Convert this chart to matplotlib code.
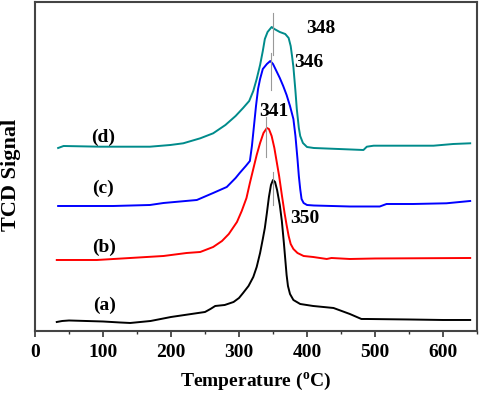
import matplotlib
matplotlib.use("Agg")
import matplotlib.pyplot as plt
from matplotlib.ticker import MultipleLocator

plt.rcParams['font.family'] = ['Liberation Serif', 'DejaVu Serif']
plt.rcParams['font.weight'] = 'bold'
plt.rcParams['mathtext.fontset'] = 'custom'
plt.rcParams['mathtext.rm'] = 'Liberation Serif:bold'

# (a) black
t_a = [32, 40, 50, 75, 100, 125, 140, 170, 200, 230, 250, 258, 265, 279, 292, 300, 306, 314, 321, 326,
       331, 335, 338, 341, 344, 347, 350, 353, 356, 360, 363, 366, 368, 370, 372, 375, 380, 390,
       409, 439, 463, 480, 488, 550, 600, 640]
s_a = [9, 10, 10.5, 10, 9.5, 8.5, 8, 10, 14, 17, 19, 22, 25, 26, 29, 33, 38, 45, 54, 64,
       78, 92, 103, 118, 134, 146, 151, 149, 141, 126, 110, 88, 72, 56, 45, 37, 31, 27,
       25, 23, 17, 12, 12, 11.5, 11, 11]
# (b) red
t_b = [32, 91, 140, 189, 223, 243, 262, 275, 285, 297, 304, 311, 316, 321, 326, 331, 336, 341, 344,
       348, 352, 355, 359, 363, 367, 370, 373, 376, 380, 386, 395, 409, 429, 436, 463, 500, 640]
s_b = [71, 71, 73, 75, 78, 79, 84, 90, 97, 109, 120, 133, 148, 162, 176, 188, 198, 203, 202,
       195, 183, 171, 155, 136, 118, 106, 95, 87, 82, 78, 75, 74, 72, 73, 72, 72.5, 73]
# (c) blue
t_c = [34, 115, 169, 189, 238, 262, 282, 295, 301, 310, 316, 319, 322, 325, 328, 331, 335, 341, 346,
       350, 355, 360, 365, 370, 375, 380, 383, 386, 388, 390, 392, 395, 400, 410, 463, 507, 517,
       556, 605, 640]
s_c = [125, 125, 126, 128, 131, 138, 144, 153, 158, 165, 170, 185, 205, 225, 242, 252, 262, 267, 270,
       267, 260, 253, 245, 236, 225, 212, 195, 172, 155, 142, 132, 128, 126, 125.5, 124.5, 124.5, 127,
       127, 127.7, 130]
# (d) teal
t_d = [34, 42, 96, 169, 199, 218, 243, 262, 280, 295, 306, 315, 321, 326, 331, 335, 338, 342, 348,
       352, 360, 368, 373, 376, 378, 380, 383, 385, 388, 390, 394, 400, 410, 483, 488, 498, 537,
       586, 615, 640]
s_d = [183, 185, 184.3, 184.3, 186, 187.7, 192.7, 197.7, 206, 215, 223, 230, 240, 252, 266, 280, 292, 299, 304,
       302, 299, 297, 293, 285, 275, 264, 240, 222, 203, 195, 188, 184, 183, 181, 184.3, 185.3, 185.3,
       185.3, 187, 187.7]

series_labels = ['(a)', '(b)', '(c)', '(d)']
series_colors = ['#000000', '#ff0000', '#0000ff', '#008b8b']
label_pos = [(103, 26), (101.5, 84), (100.5, 143), (100.5, 194)]

peak_labels = ['350', '341', '346', '348']
peak_label_pos = [(397, 112), (350.5, 219), (402, 269), (420, 303)]
peak_marks = [350.5, 339, 346.6, 350.5]
peak_mark_span = [(126, 159), (174, 214), (241, 278), (276, 318)]

fig = plt.figure(figsize=(4.79, 3.93), dpi=100)
ax = fig.add_axes([0.0731, 0.1578, 0.9958 - 0.0731, 0.9949 - 0.1578])

for t, s, c in zip([t_a, t_b, t_c, t_d], [s_a, s_b, s_c, s_d], series_colors):
    ax.plot(t, s, color=c, lw=1.4, solid_joinstyle='round')

for xm, (y0, y1) in zip(peak_marks, peak_mark_span):
    ax.plot([xm, xm], [y0, y1], color='#999999', lw=0.8)

for lab, (x, y) in zip(series_labels, label_pos):
    ax.text(x, y, lab, ha='center', va='center', fontsize=14, fontweight='bold')
for lab, (x, y) in zip(peak_labels, peak_label_pos):
    ax.text(x, y, lab, ha='center', va='center', fontsize=14, fontweight='bold')

ax.set_xlim(0, 650)
ax.set_ylim(0, 329)
ax.set_yticks([])
ax.xaxis.set_major_locator(MultipleLocator(100))
ax.xaxis.set_minor_locator(MultipleLocator(50))
ax.tick_params(axis='x', which='major', direction='out', length=4.5, width=1.2, labelsize=14, pad=5, color='#333333')
ax.tick_params(axis='x', which='minor', direction='out', length=2.5, width=1.0, color='#333333')
for lab in ax.get_xticklabels():
    lab.set_fontweight('bold')
for sp in ax.spines.values():
    sp.set_color('#444444')
    sp.set_linewidth(1.5)

ax.set_xlabel(r'Temperature ($^{\rm o}$C)', fontsize=14, fontweight='bold', labelpad=7)
fig.text(1 / 479, 1 - 175 / 393, 'TCD Signal', rotation=90, ha='left', va='center',
         fontsize=16, fontweight='bold')

fig.savefig('out.png', dpi=100)
